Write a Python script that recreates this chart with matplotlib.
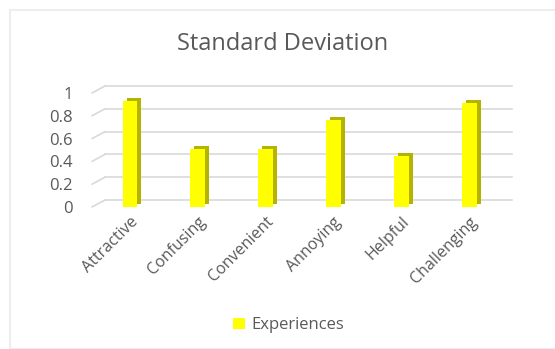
import numpy as np
import matplotlib
matplotlib.use('Agg')
import matplotlib.pyplot as plt
import matplotlib.transforms as mtransforms
from matplotlib.patches import Rectangle

# data
categories = ['Attractive', 'Confusing', 'Convenient', 'Annoying', 'Helpful', 'Challenging']
std_dev = [0.93, 0.51, 0.51, 0.76, 0.45, 0.91]
yticks = [0, 0.2, 0.4, 0.6, 0.8, 1]
ytick_labels = ['0', '0.2', '0.4', '0.6', '0.8', '1']
series_name = 'Experiences'

plt.rcParams['font.family'] = ['Open Sans', 'DejaVu Sans']
grey = '#595959'

fig = plt.figure(figsize=(5.55, 3.49), dpi=100)
ax = fig.add_axes([92/555, 142/349, 407/555, 114/349])

x = np.arange(len(categories))
px = fig.dpi_scale_trans
# depth offset of the 3d look, in pixels
dx, dy = 13, 7
back = mtransforms.ScaledTranslation(dx/100, dy/100, px)
side = mtransforms.ScaledTranslation(4/100, 3/100, px)

# gridlines on the back wall plus the slanted side wall part
blend = mtransforms.blended_transform_factory(ax.transAxes, ax.transData)
for v in yticks:
    ax.plot([0, 1], [v, v], color='#d9d9d9', lw=1.2, transform=blend + back,
            clip_on=False, zorder=0)
    ax.annotate('', xy=(0, v), xycoords=blend, xytext=(dx, dy),
                textcoords='offset pixels',
                arrowprops=dict(arrowstyle='-', color='#d9d9d9', lw=1.2,
                                shrinkA=0, shrinkB=0))

# shaded side of the bars, then the front face
ax.bar(x, std_dev, width=0.22, color='#b3b300', transform=ax.transData + side,
       zorder=2)
ax.bar(x, std_dev, width=0.22, color='#ffff00', zorder=3, label=series_name)

ax.set_xlim(-0.56, 5.44)
ax.set_ylim(0, 1)
ax.set_yticks(yticks)
ax.set_yticklabels(ytick_labels)
ax.set_xticks(x)
ax.set_xticklabels(categories, rotation=45, ha='right', rotation_mode='anchor')
ax.tick_params(axis='y', length=0, pad=14, labelsize=12, labelcolor=grey)
ax.tick_params(axis='x', length=0, pad=5, labelsize=11.5, labelcolor=grey)
for s in ax.spines.values():
    s.set_visible(False)
ax.patch.set_visible(False)

fig.text(0.51, 0.875, 'Standard Deviation', ha='center', va='center',
         fontsize=17, color=grey)

leg = fig.legend(loc='center', bbox_to_anchor=(0.52, 0.068), frameon=False,
                 fontsize=12, handlelength=0.7, handleheight=0.7,
                 handletextpad=0.4)
for t in leg.get_texts():
    t.set_color(grey)

# faint chart border
fig.patches.append(Rectangle((10/555, 0.0), 1.0, 1 - 10/349, transform=fig.transFigure,
                             fill=False, edgecolor='#eeeeee', lw=1.5))

fig.savefig('out.png', dpi=100)
